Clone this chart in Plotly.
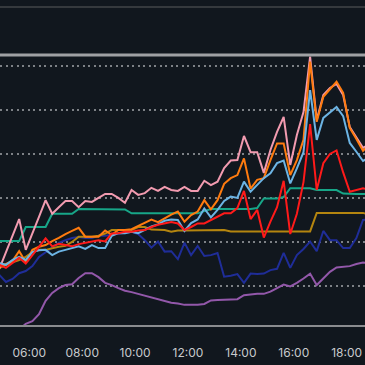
import pandas as pd
import plotly.graph_objects as go

# 15-minute samples
times = pd.date_range("2024-01-01 04:52", periods=57, freq="15min")

pink = [13.8, 17.6, 21.3, 25.1, 18.1, 21.7, 25.6, 29.4, 26.3, 27.8, 29.2, 29.2, 27.8, 29.2, 29.0, 29.9,
        30.8, 30.8, 29.9, 28.8, 31.7, 30.6, 31.0, 32.2, 31.5, 32.4, 31.7, 31.5, 32.4, 31.5, 31.5, 33.8,
        32.8, 33.6, 36.7, 38.4, 38.5, 44.0, 40.3, 40.3, 35.6, 40.8, 44.9, 48.3, 37.4, 44.2, 49.4, 62.0,
        47.6, 53.3, 54.9, 55.8, 53.3, 46.0, 43.8, 41.3, 42.2]
orange = [14.2, 14.9, 15.6, 17.8, 15.3, 18.1, 18.8, 19.2, 20.1, 20.8, 21.7, 22.4, 23.1, 21.1, 21.1, 21.1,
          22.5, 21.5, 22.6, 22.6, 22.8, 23.5, 24.2, 25.0, 24.4, 25.3, 26.1, 26.8, 24.5, 26.0, 26.8, 29.4,
          27.3, 29.4, 33.1, 34.4, 35.1, 38.9, 32.0, 34.0, 34.4, 38.5, 42.3, 42.3, 35.1, 38.5, 43.1, 60.9,
          47.2, 52.9, 54.7, 56.3, 53.8, 45.8, 43.3, 40.6, 42.2]
light_blue = [15.1, 14.7, 15.8, 16.5, 15.8, 17.6, 18.0, 18.1, 16.9, 17.7, 18.1, 18.5, 18.9, 18.3, 19.2, 18.5,
              18.5, 21.3, 21.9, 21.9, 22.2, 21.9, 22.7, 23.4, 23.9, 24.7, 25.0, 24.9, 22.4, 24.2, 25.0, 27.5,
              25.5, 27.2, 29.2, 30.2, 29.9, 33.6, 31.3, 32.8, 34.4, 35.5, 37.8, 38.4, 33.2, 36.6, 40.3, 54.4,
              43.1, 48.1, 49.4, 50.6, 48.5, 42.4, 40.4, 38.3, 39.2]
red = [14.7, 14.0, 15.1, 16.3, 15.0, 16.9, 18.8, 20.7, 18.9, 19.5, 19.2, 18.9, 19.4, 19.7, 20.0, 20.3,
       20.0, 21.8, 21.9, 22.2, 22.2, 22.5, 22.6, 23.3, 23.8, 24.1, 24.4, 24.1, 22.6, 23.3, 24.1, 24.1,
       24.9, 25.6, 26.4, 26.4, 27.6, 31.5, 25.1, 27.2, 20.9, 24.5, 27.8, 33.8, 21.7, 26.3, 33.5, 46.7,
       31.7, 37.8, 39.9, 40.7, 35.7, 31.3, 31.7, 32.1, 31.7]
teal = [20.1, 20.1, 20.1, 20.1, 23.3, 23.3, 23.3, 23.3, 26.3, 26.3, 26.3, 26.3, 27.4, 27.4, 27.4, 27.4,
        27.4, 27.4, 27.4, 27.3, 26.4, 26.4, 26.4, 26.4, 26.4, 26.4, 26.4, 26.4, 26.4, 26.4, 26.4, 26.9,
        27.4, 27.4, 27.4, 27.4, 27.4, 27.4, 27.4, 27.6, 29.8, 29.8, 29.8, 30.1, 32.1, 32.1, 32.1, 32.1,
        31.7, 31.7, 31.7, 31.7, 30.9, 30.8, 30.8, 30.8, 30.8]
gold = [14.0, 14.7, 15.3, 15.8, 16.5, 17.6, 18.1, 18.1, 18.5, 18.8, 19.0, 19.9, 21.1, 21.1, 21.1, 21.3,
        21.8, 22.6, 22.6, 22.6, 22.6, 23.3, 23.3, 22.7, 22.7, 22.6, 22.2, 22.5, 22.5, 22.5, 22.5, 22.6,
        22.6, 22.6, 22.6, 22.3, 22.3, 22.3, 22.3, 22.3, 22.3, 22.3, 22.3, 22.3, 22.3, 22.3, 22.3, 22.3,
        26.5, 26.5, 26.5, 26.5, 26.5, 26.5, 26.5, 26.5, 26.0]
navy = [12.4, 10.8, 11.5, 12.8, 13.3, 14.4, 16.5, 17.6, 18.8, 19.7, 20.3, 20.8, 21.0, 20.8, 20.8, 21.3,
        21.3, 21.5, 21.7, 21.9, 22.2, 21.7, 20.3, 18.6, 20.0, 17.7, 17.8, 16.0, 19.7, 16.9, 19.0, 16.7,
        16.9, 17.4, 12.0, 12.2, 12.6, 10.6, 12.7, 12.6, 12.7, 13.5, 13.8, 17.4, 14.0, 16.9, 18.3, 20.0,
        17.8, 22.4, 20.3, 20.3, 18.5, 18.5, 20.8, 24.9, 25.1]
purple = [0.0, 0.0, 0.0, 0.0, 1.3, 1.9, 3.5, 6.5, 8.3, 9.4, 10.1, 10.3, 11.7, 12.8, 12.8, 11.9,
          10.6, 10.1, 9.4, 8.8, 8.5, 8.1, 7.6, 7.2, 6.9, 6.5, 6.1, 5.9, 5.6, 5.6, 5.6, 5.8,
          6.6, 6.7, 6.8, 6.9, 6.9, 7.8, 8.0, 8.1, 8.1, 8.6, 9.4, 10.2, 9.8, 10.6, 11.6, 12.7,
          10.1, 11.6, 13.1, 14.1, 14.2, 14.4, 14.9, 15.2, 15.1]

series = [
    ("purple", purple, "#9358aa"),
    ("navy", navy, "#1f2d98"),
    ("gold", gold, "#b4850f"),
    ("teal", teal, "#17a688"),
    ("pink", pink, "#f29bb0"),
    ("orange", orange, "#ff7b0f"),
    ("light blue", light_blue, "#6cb4e4"),
    ("red", red, "#ff1a1a"),
]

BG = "#11171e"
fig = go.Figure()
for name, vals, col in series:
    fig.add_trace(go.Scatter(x=times, y=vals, mode="lines", name=name,
                             line=dict(color=col, width=2), hoverinfo="skip"))

fig.update_layout(
    width=365, height=365,
    margin=dict(l=0, r=0, t=55, b=39),
    paper_bgcolor=BG, plot_bgcolor=BG,
    showlegend=False,
    xaxis=dict(
        type="date",
        range=["2024-01-01 04:53:32", "2024-01-01 18:41:32"],
        showgrid=False, zeroline=False, showline=False,
        tickformat="%H:%M", dtick=7200000, tick0="2024-01-01 00:00",
        ticks="outside", ticklen=16, tickcolor="rgba(0,0,0,0)",
        tickfont=dict(family="Inter, Roboto, sans-serif", size=12, color="#c8cacd"),
    ),
    yaxis=dict(
        range=[0.795, 62.386],
        showticklabels=False, zeroline=False, showline=False,
        dtick=10, tick0=0,
        showgrid=True, gridcolor="#7d8186", gridwidth=1.5, griddash="2px,3.5px",
    ),
    shapes=[
        dict(type="line", xref="paper", yref="paper", x0=0, x1=1, y0=1, y1=1,
             line=dict(color="#9fa1a4", width=3)),
        dict(type="line", xref="paper", yref="paper", x0=0, x1=1, y0=0, y1=0,
             line=dict(color="#8a8c8f", width=2)),
        dict(type="line", xref="paper", yref="paper", x0=0, x1=1, y0=1.1771, y1=1.1771,
             line=dict(color="#35393d", width=2)),
    ],
)

fig.write_html(
    "out.html",
    config={"displayModeBar": False},
    post_script="document.body.style.margin='0';document.body.style.background='" + BG + "';",
)
